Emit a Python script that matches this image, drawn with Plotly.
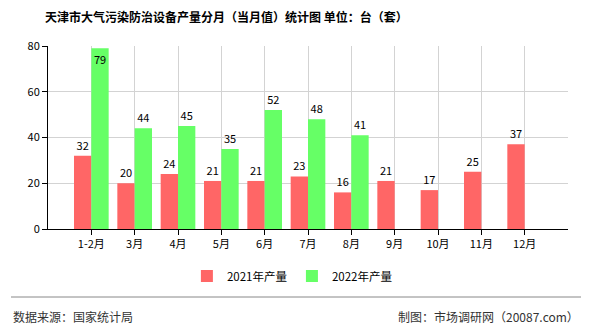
import plotly.graph_objects as go

months = ["1-2月", "3月", "4月", "5月", "6月", "7月", "8月", "9月", "10月", "11月", "12月"]
v2021 = [32, 20, 24, 21, 21, 23, 16, 21, 17, 25, 37]
v2022 = [79, 44, 45, 35, 52, 48, 41, None, None, None, None]

FONT = "Noto Sans CJK SC"
RED = "#ff6666"
GREEN = "#66ff66"

xs = list(range(len(months)))

fig = go.Figure()
fig.add_trace(go.Bar(
    x=xs, y=v2021, name="2021年产量", marker=dict(color=RED, line=dict(width=0)),
    text=[str(v) for v in v2021], textposition="outside",
    textfont=dict(color="black", size=11, family=FONT), cliponaxis=False,
))
pos22 = ["inside" if (v is not None and v > 70) else "outside" for v in v2022]
fig.add_trace(go.Bar(
    x=xs, y=v2022, name="2022年产量", marker=dict(color=GREEN, line=dict(width=0)),
    text=[str(v) if v is not None else "" for v in v2022], textposition=pos22,
    insidetextanchor="end",
    textfont=dict(color="black", size=11, family=FONT), cliponaxis=False,
))

fig.update_layout(
    width=590, height=330,
    margin=dict(l=48, r=22, t=46, b=101),
    paper_bgcolor="white", plot_bgcolor="white",
    barmode="group", bargap=0.2, bargroupgap=0,
    font=dict(family=FONT, size=11, color="black"),
    uniformtext=dict(minsize=11, mode="show"),
    title=dict(text="<b>天津市大气污染防治设备产量分月（当月值）统计图 单位：台（套）</b>",
               x=45/590, xanchor="left", y=1-18/330, yanchor="middle",
               font=dict(family=FONT, size=12, color="black")),
    legend=dict(orientation="h", x=0.47, xanchor="center", y=-0.257, yanchor="middle",
                font=dict(family=FONT, size=11.5, color="black"), itemwidth=30,
                traceorder="normal"),
    showlegend=True,
)
fig.update_xaxes(
    range=[-1, 11], tickmode="array", tickvals=xs, ticktext=months,
    showline=True, linecolor="black", linewidth=1,
    ticks="outside", ticklen=5, tickcolor="black",
    showgrid=True, gridcolor="#d3d3d3", gridwidth=1,
    zeroline=False, tickfont=dict(family=FONT, size=11, color="black"),
)
fig.update_yaxes(
    range=[0, 80], tickvals=[0, 20, 40, 60, 80],
    showline=True, linecolor="black", linewidth=1,
    ticks="outside", ticklen=5, tickcolor="black",
    showgrid=True, gridcolor="#d3d3d3", gridwidth=1,
    zeroline=False, tickfont=dict(family=FONT, size=11, color="black"),
)

fig.add_shape(type="line", xref="paper", yref="paper",
              x0=(11-48)/520, x1=(581-48)/520, y0=(229-297)/183, y1=(229-297)/183,
              line=dict(color="#888888", width=1))
fig.add_annotation(text="数据来源：国家统计局", xref="paper", yref="paper",
                   x=(11-48)/520, y=(229-316)/183, xanchor="left", yanchor="middle",
                   showarrow=False, font=dict(family=FONT, size=12, color="#333333"))
fig.add_annotation(text="制图：市场调研网（20087.com）", xref="paper", yref="paper",
                   x=(581-48)/520, y=(229-316)/183, xanchor="right", yanchor="middle",
                   showarrow=False, font=dict(family=FONT, size=12, color="#333333"))

fig.write_html("out.html")
